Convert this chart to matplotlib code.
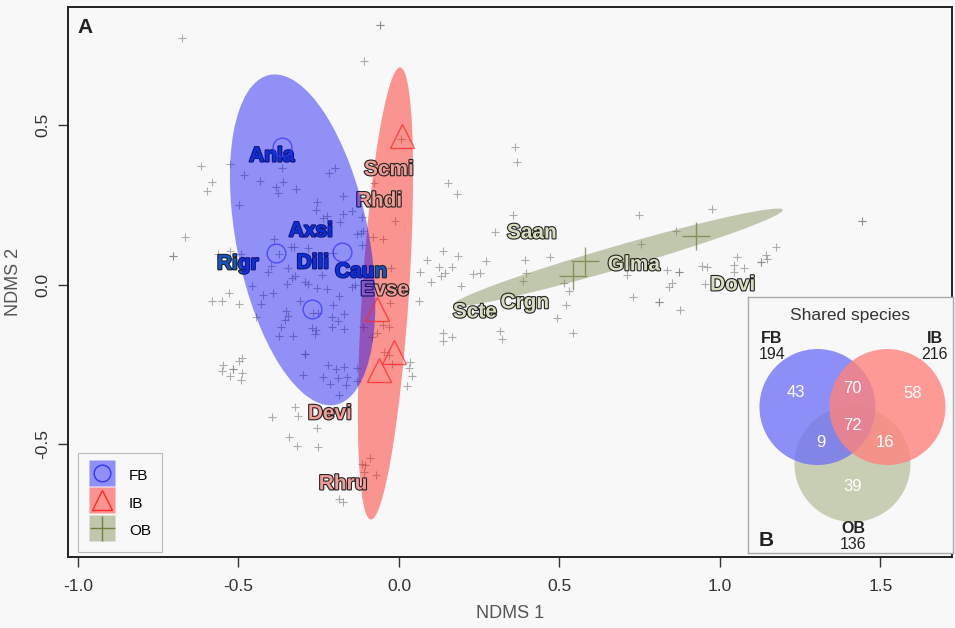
import matplotlib
matplotlib.use("Agg")
import matplotlib.pyplot as plt
import matplotlib.patheffects as pe
from matplotlib.patches import Ellipse, Circle
from matplotlib.lines import Line2D
from matplotlib.legend_handler import HandlerTuple

plt.rcParams['font.family'] = ['Liberation Sans', 'DejaVu Sans']
plt.rcParams['axes.unicode_minus'] = False

# site scores (NDMS 1, NDMS 2)
site_x = [-0.059, -0.059, -0.676, -0.109, 0.361, 0.368, -0.617, -0.526, -0.583, -0.598,
          -0.483, -0.433, -0.364, -0.361, -0.383, -0.377, -0.321, -0.218, -0.199, -0.078,
          0.153, 0.181, -0.498, -0.255, -0.259, -0.174, -0.146, -0.237, -0.224, -0.174,
          -0.115, -0.184, -0.012, 0.355, -0.118, -0.131, -0.112, -0.081, -0.050, -0.667,
          -0.704, -0.704, -0.564, -0.526, -0.492, -0.389, -0.374, -0.336, -0.327, -0.283,
          -0.115, 0.299, -0.399, -0.408, -0.346, -0.324, -0.333, -0.349, -0.458, -0.293,
          -0.283, -0.240, -0.025, 0.065, 0.087, 0.137, 0.184, 0.125, 0.165, 0.143,
          0.131, 0.100, 0.231, 0.252, 0.271, 0.193, 0.062, 0.392, 0.470, 0.396,
          0.386, 0.514, 0.530, 0.520, 0.492, 0.542, 0.137, 0.137, 0.165, 0.315,
          0.321, 0.748, 0.975, 0.863, 0.754, 1.442, 1.442, 1.174, 1.143, 1.146,
          1.128, 1.128, 1.053, 1.044, 1.075, 1.044, 0.944, 0.959, 0.835, 0.872,
          0.872, 0.710, 0.850, 0.841, 0.953, 0.729, 0.810, 0.810, 0.875, -0.530,
          -0.583, -0.551, -0.498, -0.424, -0.392, -0.255, -0.224, -0.187, -0.146, -0.137,
          -0.308, -0.430, -0.445, -0.352, -0.346, -0.355, -0.268, -0.252, -0.206, -0.171,
          -0.209, -0.190, -0.368, -0.374, -0.330, -0.271, -0.259, -0.262, -0.209, -0.171,
          -0.112, -0.084, -0.069, -0.028, -0.050, -0.031, -0.293, -0.293, -0.489, -0.498,
          -0.548, -0.517, -0.517, -0.551, -0.526, -0.489, -0.492, -0.299, -0.221, -0.196,
          -0.171, -0.131, -0.237, -0.190, -0.162, -0.215, -0.165, -0.131, -0.187, -0.047,
          -0.031, -0.022, 0.034, 0.031, 0.040, 0.025, -0.324, -0.396, -0.315, -0.255,
          -0.343, -0.318, -0.252, -0.090, -0.115, -0.106, -0.109, -0.072, -0.187, -0.174,
          0.006, -0.206]
site_y = [0.815, 0.815, 0.774, 0.702, 0.433, 0.386, 0.373, 0.379, 0.323, 0.295,
          0.345, 0.326, 0.367, 0.323, 0.307, 0.288, 0.301, 0.351, 0.367, 0.320,
          0.320, 0.285, 0.251, 0.260, 0.235, 0.279, 0.232, 0.210, 0.216, 0.223,
          0.213, 0.198, 0.201, 0.219, 0.163, 0.160, 0.169, 0.150, 0.144, 0.150,
          0.091, 0.091, 0.097, 0.107, 0.097, 0.144, 0.097, 0.119, 0.119, 0.116,
          0.125, 0.166, 0.060, 0.041, 0.053, 0.028, 0.022, 0.003, -0.003, 0.009,
          0.003, 0.031, 0.053, 0.041, 0.078, 0.107, 0.091, 0.056, 0.056, 0.038,
          0.028, 0.009, 0.034, 0.038, 0.075, -0.003, -0.050, 0.078, 0.088, 0.038,
          0.013, 0.006, -0.019, -0.063, -0.103, -0.150, -0.150, -0.176, -0.163, -0.144,
          -0.169, 0.219, 0.238, 0.169, 0.129, 0.201, 0.201, 0.119, 0.094, 0.082,
          0.072, 0.072, 0.088, 0.063, 0.053, 0.041, 0.060, 0.056, 0.047, 0.041,
          0.041, 0.031, 0.006, -0.006, 0.003, -0.038, -0.053, -0.053, -0.078, -0.025,
          -0.050, -0.050, -0.060, -0.031, -0.025, -0.009, -0.013, -0.034, -0.006, 0.000,
          -0.050, -0.060, -0.100, -0.082, -0.097, -0.110, -0.088, -0.088, -0.063, -0.091,
          -0.100, -0.113, -0.132, -0.160, -0.160, -0.135, -0.141, -0.154, -0.132, -0.138,
          -0.132, -0.163, -0.150, -0.056, -0.125, -0.132, -0.216, -0.216, -0.229, -0.238,
          -0.251, -0.263, -0.263, -0.270, -0.285, -0.276, -0.298, -0.282, -0.251, -0.263,
          -0.257, -0.260, -0.288, -0.292, -0.288, -0.310, -0.314, -0.301, -0.345, -0.210,
          -0.219, -0.248, -0.241, -0.260, -0.285, -0.317, -0.382, -0.414, -0.411, -0.448,
          -0.477, -0.505, -0.508, -0.542, -0.561, -0.564, -0.586, -0.596, -0.671, -0.680,
          0.458, 0.100]

# site group centroids
fb_x = [-0.364, -0.383, -0.178, -0.271]
fb_y = [0.433, 0.100, 0.103, -0.075]
ib_x = [0.009, -0.069, -0.016, -0.062]
ib_y = [0.467, -0.077, -0.210, -0.268]
ob_x = [0.579, 0.542, 0.925]
ob_y = [0.075, 0.028, 0.154]

# dispersion ellipses (FB, IB, OB)
groups = ['FB', 'IB', 'OB']
ell_x = [-0.300, -0.042, 0.682]
ell_y = [0.141, -0.027, 0.086]
ell_w = [1.054, 1.420, 1.070]
ell_h = [0.412, 0.146, 0.072]
ell_angle = [101.2, 86.3, 16.2]

# indicator species
species = ['Anla', 'Axsi', 'Rigr', 'Dili', 'Caun',
           'Scmi', 'Rhdi', 'Evse', 'Devi', 'Rhru',
           'Saan', 'Glma', 'Dovi', 'Scte', 'Crgn']
species_x = [-0.396, -0.274, -0.502, -0.268, -0.118,
             -0.031, -0.062, -0.044, -0.215, -0.174,
             0.414, 0.732, 1.040, 0.237, 0.392]
species_y = [0.404, 0.169, 0.066, 0.069, 0.041,
             0.361, 0.263, -0.016, -0.404, -0.624,
             0.163, 0.063, 0.000, -0.085, -0.056]
species_group = ['FB'] * 5 + ['IB'] * 5 + ['OB'] * 5

# shared species (Venn)
venn_totals = [194, 216, 136]
venn_regions = ['FB', 'FB&IB', 'IB', 'FB&IB&OB', 'FB&OB', 'IB&OB', 'OB']
venn_counts = [43, 70, 58, 72, 9, 16, 39]

bg = '#f8f8f8'
fill = {'FB': '#0000f5', 'IB': '#ff0a00', 'OB': '#758446'}
line = {'FB': '#3434ff', 'IB': '#ff2a2a', 'OB': '#6f8040'}
text_col = {'FB': '#1456c8', 'IB': '#f29c96', 'OB': '#d9ddc0'}
markers = {'FB': ('o', 12), 'IB': ('^', 14), 'OB': ('+', 18)}

fig = plt.figure(figsize=(9.55, 6.28), dpi=100, facecolor=bg)
ax = fig.add_axes([0.0712, 0.1131, 0.9257, 0.8758])
ax.set_facecolor(bg)

ax.plot(site_x, site_y, ls='none', marker='+', ms=6, mew=0.8,
        color='#7a7a7a', alpha=0.6, zorder=1)

for g, x, y, w, h, a in zip(groups, ell_x, ell_y, ell_w, ell_h, ell_angle):
    z = 4 if g == 'FB' else 2
    ax.add_patch(Ellipse((x, y), w, h, angle=a, facecolor=fill[g],
                         edgecolor='none', alpha=0.42, zorder=z))

stroke = [pe.withStroke(linewidth=1.6, foreground='#222222')]
for name, x, y, g in zip(species, species_x, species_y, species_group):
    ax.text(x, y, name, color=text_col[g], fontsize=15, fontweight='bold',
            ha='center', va='center', zorder=3, path_effects=stroke)

ax.plot(fb_x, fb_y, ls='none', marker='o', ms=13.5, mfc='none',
        mec=line['FB'], mew=1, alpha=0.75, zorder=5)
ax.plot(ib_x, ib_y, ls='none', marker='^', ms=17, mfc='none',
        mec=line['IB'], mew=1, alpha=0.75, zorder=5)
ax.plot(ob_x, ob_y, ls='none', marker='+', ms=20, mew=1,
        mec=line['OB'], alpha=0.75, zorder=5)

ax.set_xlim(-1.031, 1.723)
ax.set_ylim(-0.853, 0.871)
ax.set_xticks([-1.0, -0.5, 0.0, 0.5, 1.0, 1.5])
ax.set_yticks([-0.5, 0.0, 0.5])
ax.set_xticklabels(['-1.0', '-0.5', '0.0', '0.5', '1.0', '1.5'])
ax.set_yticklabels(['-0.5', '0.0', '0.5'], rotation=90, va='center')
ax.tick_params(axis='both', direction='out', length=7, width=1,
               color='#333333', labelcolor='#333333', labelsize=12.5)
ax.tick_params(axis='x', pad=9)
ax.tick_params(axis='y', pad=6)
for s in ax.spines.values():
    s.set_linewidth(1.4)
    s.set_color('#222222')

ax.set_xlabel('NDMS 1', fontsize=13, color='#555555')
ax.set_ylabel('NDMS 2', fontsize=13, color='#555555')
ax.xaxis.set_label_coords(0.5, -0.088)
ax.yaxis.set_label_coords(-0.052, 0.5)

ax.text(0.019, 0.962, 'A', transform=ax.transAxes, fontsize=15,
        fontweight='bold', color='#222222', ha='center', va='center')

# legend: filled square with the group symbol on top
handles = []
for g in groups:
    m, ms = markers[g]
    square = Line2D([], [], ls='none', marker='s', ms=19, mfc=fill[g],
                    mec='none', alpha=0.42)
    symbol = Line2D([], [], ls='none', marker=m, ms=ms, mfc='none',
                    mec=line[g], mew=1)
    handles.append((square, symbol))
leg = ax.legend(handles, groups, handler_map={tuple: HandlerTuple(ndivide=1, pad=0)},
                loc='lower left', bbox_to_anchor=(0.011, 0.009), borderaxespad=0,
                handlelength=1.7, handleheight=1.7, labelspacing=0.45,
                borderpad=0.75, handletextpad=0.9, fontsize=11,
                fancybox=False, framealpha=1, facecolor=bg, edgecolor='#bbbbbb')
leg.get_frame().set_linewidth(0.8)
leg.set_zorder(6)

# Venn inset
vax = fig.add_axes([0.7832, 0.1194, 0.2147, 0.4076])
vax.set_zorder(5)
vax.set_facecolor(bg)
vax.set_xlim(0, 205)
vax.set_ylim(0, 256)
vax.set_xticks([])
vax.set_yticks([])
for s in vax.spines.values():
    s.set_color('#aaaaaa')
    s.set_linewidth(1)

vax.add_patch(Circle((104.5, 89), 58, facecolor='#c8ceb4', edgecolor='none'))
vax.add_patch(Circle((69.5, 146), 58, facecolor='#6b6bf7', edgecolor='none', alpha=0.75))
vax.add_patch(Circle((139.5, 146), 58, facecolor='#ff837d', edgecolor='none', alpha=0.8))

region_pos = {'FB': (48, 161), 'FB&IB': (104, 165), 'IB': (165, 160),
              'FB&IB&OB': (104, 128), 'FB&OB': (73, 111), 'IB&OB': (137, 111),
              'OB': (105, 67)}
for r, n in zip(venn_regions, venn_counts):
    vax.text(*region_pos[r], str(n), color='white', fontsize=12,
             ha='center', va='center')

vax.text(102, 238, 'Shared species', fontsize=12.5, color='#333333',
         ha='center', va='center')
name_pos = [(24, 215), (187, 215), (105, 25)]
for g, tot, (x, y) in zip(groups, venn_totals, name_pos):
    vax.text(x, y, g, fontsize=11.5, fontweight='bold', color='#222222',
             ha='center', va='center')
    vax.text(x, y - 16, str(tot), fontsize=11.5, color='#222222',
             ha='center', va='center')
vax.text(18, 13, 'B', fontsize=15, fontweight='bold', color='#222222',
         ha='center', va='center')

fig.savefig('out.png', dpi=100, facecolor=bg)
